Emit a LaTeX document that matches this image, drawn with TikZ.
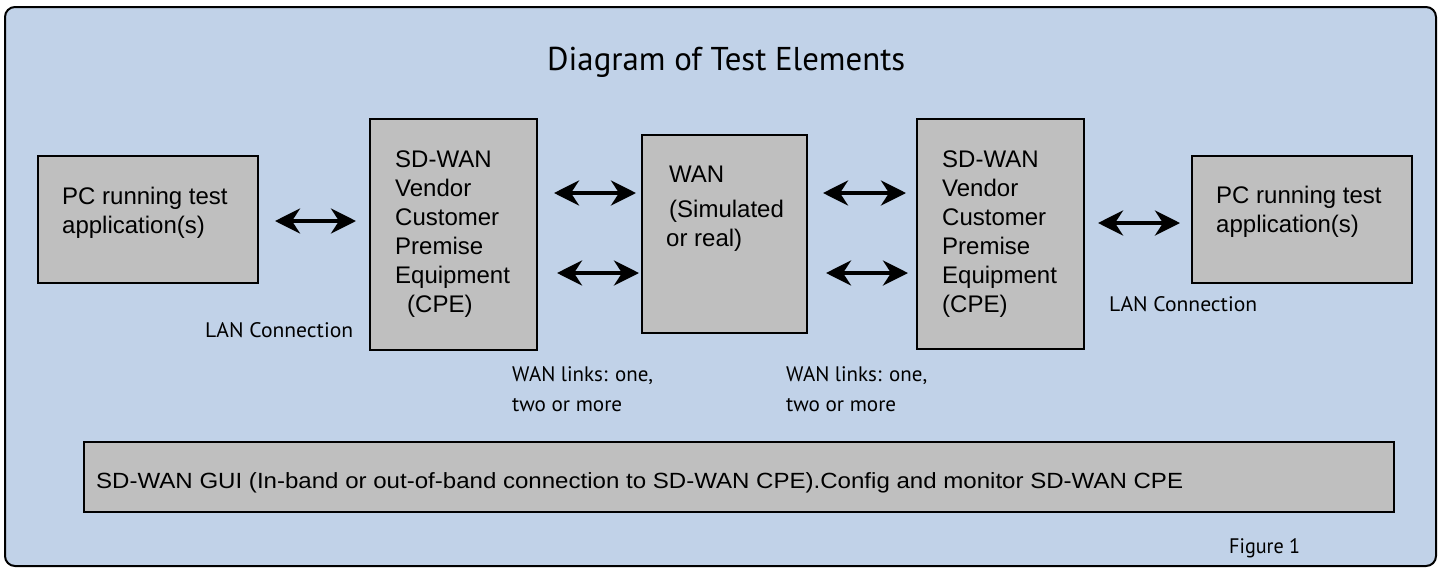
\documentclass[tikz,border=0pt]{standalone}
\usepackage{fontspec}
\usepackage{graphicx}
\setmainfont{Liberation Sans}
\newfontfamily\myr{PT Sans}
\usetikzlibrary{arrows.meta,calc}
\definecolor{bgblue}{HTML}{C1D2E8}
\definecolor{boxgrey}{HTML}{BFBFBF}
\newcommand\fitw[2]{\resizebox{#1}{\height}{#2}}
\newcommand\blines[1]{\parbox[t]{400pt}{\raggedright #1}}
\begin{document}
\begin{tikzpicture}[x=1pt,y=-1pt,
  box/.style={draw=black,line width=2pt,fill=boxgrey,inner sep=0pt},
  txt/.style={anchor=base west,inner sep=0pt,font=\fontsize{24}{29}\selectfont},
  lbl/.style={anchor=base west,inner sep=0pt,font=\myr\fontsize{21}{30}\selectfont},
  biarr/.style={line width=4pt,{Stealth[length=25pt,width=25pt,inset=8pt]}-{Stealth[length=25pt,width=25pt,inset=8pt]}}
]
\useasboundingbox (0,0) rectangle (1442,571);
\draw[line width=2pt,fill=bgblue,rounded corners=10pt] (5,7) rectangle (1436,566);

% boxes
\node[box,minimum width=220pt,minimum height=127pt] (pcL) at (148,219.5) {};
\node[box,minimum width=167pt,minimum height=231pt] (cpeL) at (453.5,234.5) {};
\node[box,minimum width=165pt,minimum height=198pt] (wan) at (724.5,234) {};
\node[box,minimum width=167pt,minimum height=230pt] (cpeR) at (1000.5,234) {};
\node[box,minimum width=220pt,minimum height=127pt] (pcR) at (1302,219.5) {};
\node[box,minimum width=1310pt,minimum height=70pt] (gui) at (739,477) {};

% title
\node[anchor=base west,inner sep=0pt,font=\myr\fontsize{33}{40}\selectfont] (title) at (547,70) {\fitw{358pt}{Diagram of Test Elements}};

% box texts
\node[txt] (pcLt) at (62,204) {\blines{PC running test\\application(s)}};
\node[txt] (pcRt) at (1216,203) {\blines{PC running test\\application(s)}};
\node[txt] (cpeLt) at (395,167) {\blines{SD-WAN\\Vendor\\Customer\\Premise\\Equipment\\\hspace*{12pt}(CPE)}};
\node[txt] (cpeRt) at (942,167) {\blines{SD-WAN\\Vendor\\Customer\\Premise\\Equipment\\(CPE)}};
\node[txt] (want) at (669,182) {\blines{WAN\\[6pt](Simulated\\\hspace*{-3pt}or real)}};
\node[anchor=base west,inner sep=0pt,font=\fontsize{22}{26}\selectfont] (guit) at (96,488) {\fitw{1087pt}{SD-WAN GUI (In-band or out-of-band connection to SD-WAN CPE).Config and monitor SD-WAN CPE}};

% labels
\node[lbl] (lanL) at (205,337) {\fitw{148pt}{LAN Connection}};
\node[lbl] (lanR) at (1109,311) {\fitw{148pt}{LAN Connection}};
\node[lbl] (wlL) at (512,381) {\blines{\fitw{141pt}{WAN links: one,}\\\fitw{110pt}{two or more}}};
\node[lbl] (wlR) at (786,381) {\blines{\fitw{141pt}{WAN links: one,}\\\fitw{110pt}{two or more}}};
\node[lbl] (fig) at (1229,553) {\fitw{71pt}{Figure 1}};

% rows for arrows
\coordinate (r1) at (0,221);
\coordinate (r2) at (0,193);
\coordinate (r3) at (0,273);
\coordinate (r4) at (0,223);

\draw[biarr] ($(pcL.east |- r1)+(16,0)$) -- ($(cpeL.west |- r1)+(-13,0)$);
\draw[biarr] ($(cpeL.east |- r2)+(16,0)$) -- ($(wan.west |- r2)+(-5,0)$);
\draw[biarr] ($(cpeL.east |- r3)+(19,0)$) -- ($(wan.west |- r3)+(-2,0)$);
\draw[biarr] ($(wan.east |- r2)+(15,0)$) -- ($(cpeR.west |- r2)+(-10,0)$);
\draw[biarr] ($(wan.east |- r3)+(18,0)$) -- ($(cpeR.west |- r3)+(-8,0)$);
\draw[biarr] ($(cpeR.east |- r4)+(13,0)$) -- ($(pcR.west |- r4)+(-11,0)$);
\end{tikzpicture}
\end{document}
